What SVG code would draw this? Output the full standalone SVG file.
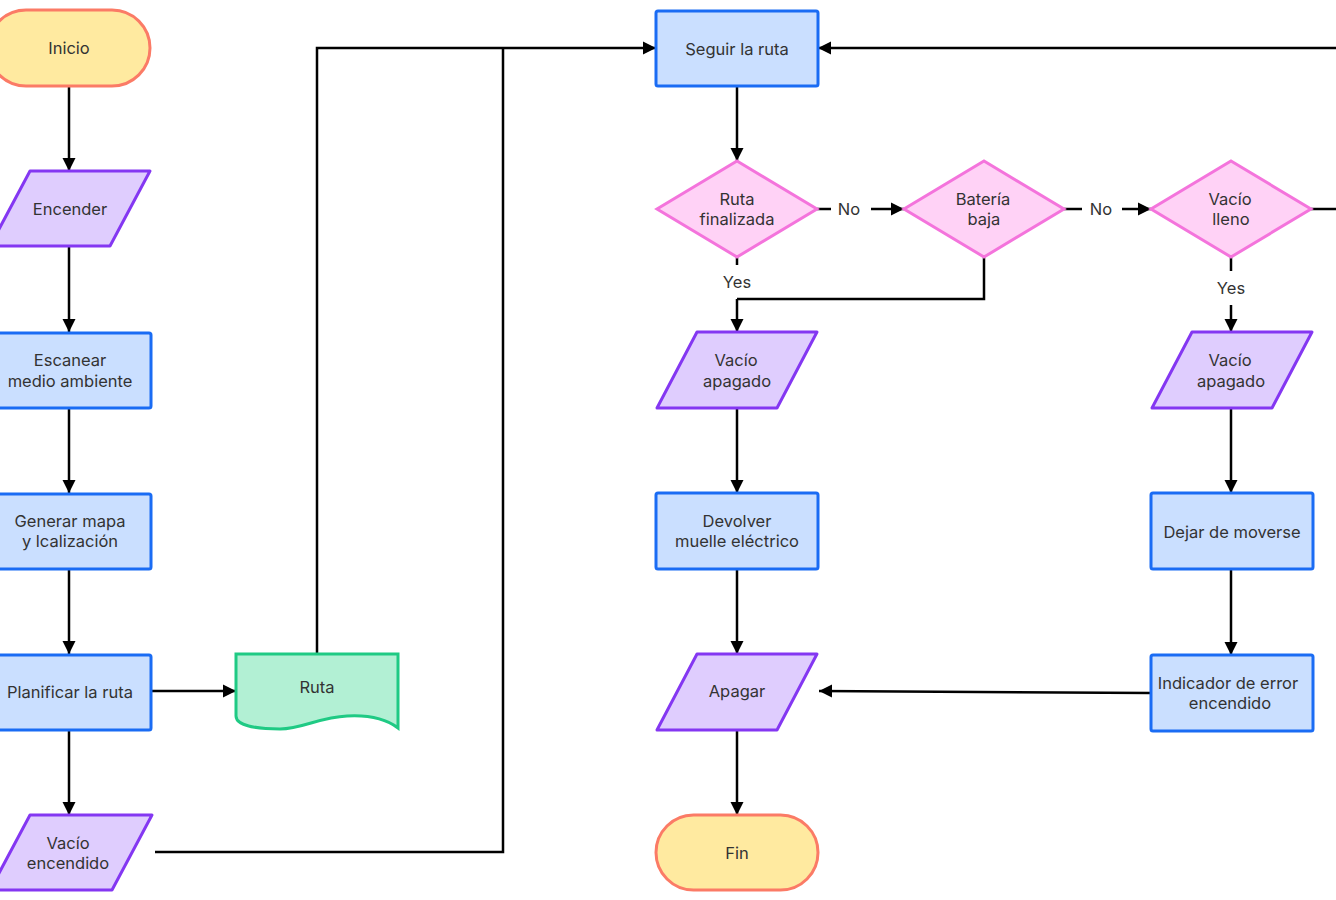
<svg xmlns="http://www.w3.org/2000/svg" width="1336" height="900" viewBox="0 0 1336 900">
<defs>
<marker id="arr" markerUnits="userSpaceOnUse" markerWidth="14" markerHeight="14" refX="13" refY="7" orient="auto">
<path d="M0,0.5 L13,7 L0,13.5 z" fill="#000"/>
</marker>
<style>
.term{fill:#ffeaa0;stroke:#fb7b66;stroke-width:3}
.io{fill:#dfcdfe;stroke:#8437f2;stroke-width:3;stroke-linejoin:round}
.proc{fill:#cadfff;stroke:#1a6cf4;stroke-width:3}
.dec{fill:#ffd2f6;stroke:#f474dc;stroke-width:3}
.doc{fill:#b2f0d4;stroke:#1fca84;stroke-width:3}
.c{fill:none;stroke:#000;stroke-width:2.5}
.ca{fill:none;stroke:#000;stroke-width:2.5;marker-end:url(#arr)}
text{font-family:Inter,"Noto Sans","Liberation Sans",sans-serif;font-size:16.5px;fill:#333;text-anchor:middle}
</style>
</defs>
<rect width="1336" height="900" fill="#fff"/>
<g id="connectors">
<path class="ca" d="M69,86 V171"/>
<path class="ca" d="M69,246 V332"/>
<path class="ca" d="M69,408 V493"/>
<path class="ca" d="M69,569 V654"/>
<path class="ca" d="M69,730 V815"/>
<path class="ca" d="M151,691 H236"/>
<path class="ca" d="M317,654 V48 H656"/>
<path class="c" d="M155,852 H503 V48"/>
<path class="ca" d="M1336,48 H818"/>
<path class="ca" d="M737,86 V161"/>
<path class="c" d="M817,209 H831"/>
<path class="ca" d="M871,209 H904"/>
<path class="c" d="M1064,209 H1082"/>
<path class="ca" d="M1122,209 H1151"/>
<path class="c" d="M1311,209 H1336"/>
<path class="c" d="M737,257 V265"/>
<path class="ca" d="M737,299 V332"/>
<path class="c" d="M984,257 V299 H737"/>
<path class="c" d="M1231,257 V271"/>
<path class="ca" d="M1231,305 V332"/>
<path class="ca" d="M737,408 V493"/>
<path class="ca" d="M737,569 V654"/>
<path class="ca" d="M737,730 V815"/>
<path class="ca" d="M1231,408 V493"/>
<path class="ca" d="M1231,569 V655"/>
<path class="ca" d="M1151,693 L819,691"/>
<text x="849" y="215">No</text>
<text x="1101" y="215">No</text>
<text x="737" y="288">Yes</text>
<text x="1231" y="294">Yes</text>
</g>
<g id="inicio"><rect class="term" x="-12" y="10" width="162" height="76" rx="38"/><text x="69" y="54">Inicio</text></g>
<g id="encender"><path class="io" d="M30,171 H150 L110,246 H-10 Z"/><text x="70" y="215">Encender</text></g>
<g id="escanear"><rect class="proc" x="-12" y="333" width="163" height="75" rx="2"/><text x="70" y="366">Escanear</text><text x="70" y="387">medio ambiente</text></g>
<g id="generar"><rect class="proc" x="-12" y="494" width="163" height="75" rx="2"/><text x="70" y="527">Generar mapa</text><text x="70" y="547">y lcalización</text></g>
<g id="planificar"><rect class="proc" x="-12" y="655" width="163" height="75" rx="2"/><text x="70" y="698">Planificar la ruta</text></g>
<g id="vacio-encendido"><path class="io" d="M30,815 H152 L112,890 H-10 Z"/><text x="68" y="849">Vacío</text><text x="68" y="869">encendido</text></g>
<g id="ruta"><path class="doc" d="M236,654 H398 V728 C385,718 365,715 347,716 C320,717 302,729 280,729 C255,729 236,725 236,716 Z"/><text x="317" y="693">Ruta</text></g>
<g id="seguir"><rect class="proc" x="656" y="11" width="162" height="75" rx="2"/><text x="737" y="55">Seguir la ruta</text></g>
<g id="ruta-finalizada"><path class="dec" d="M737,161 L817,209 L737,257 L657,209 Z"/><text x="737" y="205">Ruta</text><text x="737" y="225">finalizada</text></g>
<g id="bateria-baja"><path class="dec" d="M984,161 L1064,209 L984,257 L904,209 Z"/><text x="983" y="205">Batería</text><text x="984" y="225">baja</text></g>
<g id="vacio-lleno"><path class="dec" d="M1231,161 L1311,209 L1231,257 L1151,209 Z"/><text x="1230" y="205">Vacío</text><text x="1231" y="225">lleno</text></g>
<g id="vacio-apagado-1"><path class="io" d="M697,332 H817 L777,408 H657 Z"/><text x="736" y="366">Vacío</text><text x="737" y="387">apagado</text></g>
<g id="vacio-apagado-2"><path class="io" d="M1192,332 H1312 L1272,408 H1152 Z"/><text x="1230" y="366">Vacío</text><text x="1231" y="387">apagado</text></g>
<g id="devolver"><rect class="proc" x="656" y="493" width="162" height="76" rx="2"/><text x="737" y="527">Devolver</text><text x="737" y="547">muelle eléctrico</text></g>
<g id="dejar"><rect class="proc" x="1151" y="493" width="162" height="76" rx="2"/><text x="1232" y="538">Dejar de moverse</text></g>
<g id="apagar"><path class="io" d="M697,654 H817 L777,730 H657 Z"/><text x="737" y="697">Apagar</text></g>
<g id="indicador"><rect class="proc" x="1151" y="655" width="162" height="76" rx="2"/><text x="1228" y="689">Indicador de error</text><text x="1230" y="709">encendido</text></g>
<g id="fin"><rect class="term" x="656" y="815" width="162" height="75" rx="37.5"/><text x="737" y="859">Fin</text></g>
</svg>
